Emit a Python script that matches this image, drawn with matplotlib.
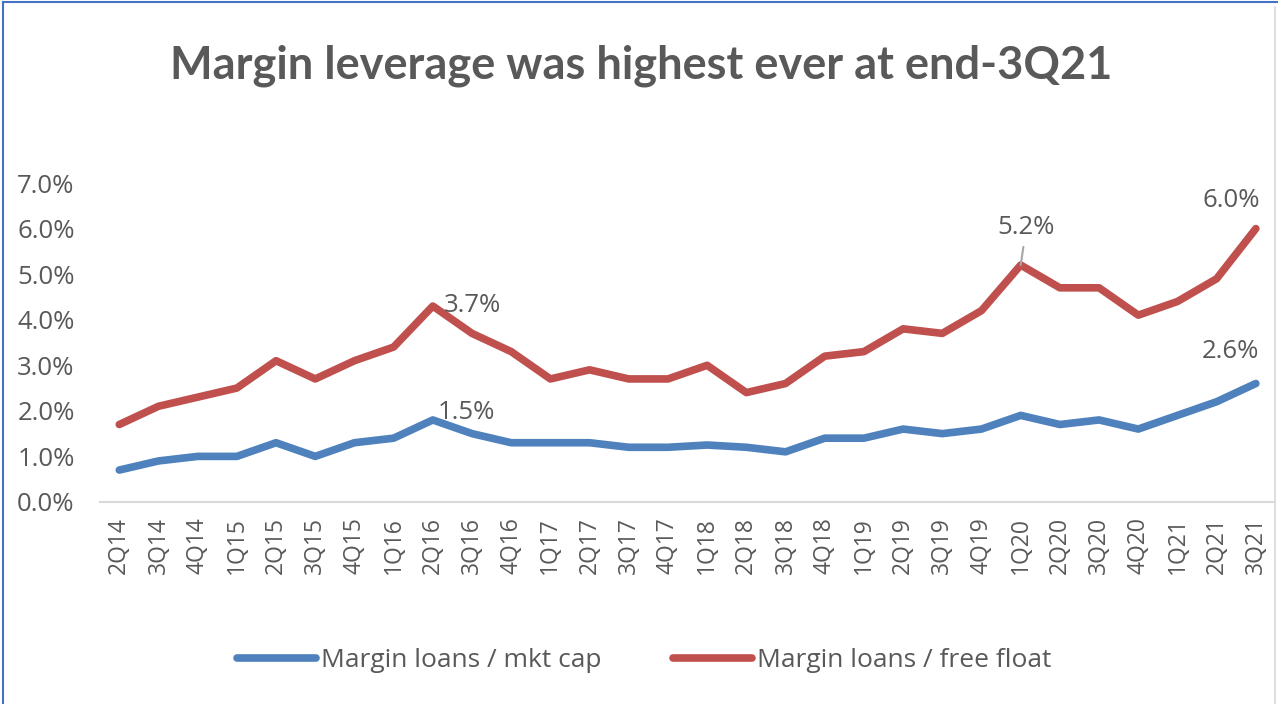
import numpy as np
import matplotlib
matplotlib.use("Agg")
from matplotlib import pyplot as plt
from matplotlib.lines import Line2D

quarters = ['2Q14', '3Q14', '4Q14',
            '1Q15', '2Q15', '3Q15', '4Q15',
            '1Q16', '2Q16', '3Q16', '4Q16',
            '1Q17', '2Q17', '3Q17', '4Q17',
            '1Q18', '2Q18', '3Q18', '4Q18',
            '1Q19', '2Q19', '3Q19', '4Q19',
            '1Q20', '2Q20', '3Q20', '4Q20',
            '1Q21', '2Q21', '3Q21']

mkt_cap = [0.7, 0.9, 1.0,
           1.0, 1.3, 1.0, 1.3,
           1.4, 1.8, 1.5, 1.3,
           1.3, 1.3, 1.2, 1.2,
           1.25, 1.2, 1.1, 1.4,
           1.4, 1.6, 1.5, 1.6,
           1.9, 1.7, 1.8, 1.6,
           1.9, 2.2, 2.6]

free_float = [1.7, 2.1, 2.3,
              2.5, 3.1, 2.7, 3.1,
              3.4, 4.3, 3.7, 3.3,
              2.7, 2.9, 2.7, 2.7,
              3.0, 2.4, 2.6, 3.2,
              3.3, 3.8, 3.7, 4.2,
              5.2, 4.7, 4.7, 4.1,
              4.4, 4.9, 6.0]

blue = '#4F81BD'
red = '#C0504D'
grey = '#595959'
font = 'Open Sans'

fig = plt.figure(figsize=(12.78, 7.04), dpi=100)
ax = fig.add_axes([0.078, 0.287, 0.92, 0.453])

x = np.arange(len(quarters))
ax.plot(x, mkt_cap, color=blue, lw=5.5, solid_capstyle='round', solid_joinstyle='round')
ax.plot(x, free_float, color=red, lw=5.5, solid_capstyle='round', solid_joinstyle='round')

ax.set_xlim(-0.5, len(quarters) - 0.5)
ax.set_ylim(0, 7)
ax.set_yticks(np.arange(0, 8, 1))
ax.set_yticklabels(['%.1f%%' % v for v in np.arange(0, 8, 1)],
                   fontsize=18.5, color=grey, family=font)
ax.set_xticks(x)
ax.set_xticklabels(quarters, rotation=90, fontsize=16.5, color=grey, family=font)
ax.tick_params(axis='both', length=0)
ax.tick_params(axis='y', pad=18)
ax.tick_params(axis='x', pad=11)

for s in ['top', 'right', 'left']:
    ax.spines[s].set_visible(False)
ax.spines['bottom'].set_color('#D9D9D9')
ax.spines['bottom'].set_linewidth(1.5)

# data labels
lab = dict(fontsize=18.5, color=grey, family=font, va='center',
           textcoords='offset points')
ax.annotate('%.1f%%' % free_float[9], xy=(9, free_float[9]),
            xytext=(-20, 20), **lab)
ax.annotate('%.1f%%' % mkt_cap[9], xy=(9, mkt_cap[9]),
            xytext=(-25, 15), **lab)
ax.annotate('%.1f%%' % free_float[23], xy=(23, free_float[23]),
            xytext=(4, 27), ha='center',
            arrowprops=dict(arrowstyle='-', color='#A6A6A6', lw=1.5,
                            shrinkA=3, shrinkB=0), **lab)
ax.annotate('%.1f%%' % free_float[29], xy=(29, free_float[29]),
            xytext=(-18, 20), ha='center', **lab)
ax.annotate('%.1f%%' % mkt_cap[29], xy=(29, mkt_cap[29]),
            xytext=(-18, 23), ha='center', **lab)

fig.text(0.502, 0.907, 'Margin leverage was highest ever at end-3Q21',
         ha='center', va='center', fontsize=32.5, fontweight='bold',
         color=grey, family='Lato')

handles = [Line2D([], [], color=blue, lw=5.5, solid_capstyle='round'),
           Line2D([], [], color=red, lw=5.5, solid_capstyle='round')]
fig.legend(handles, ['Margin loans / mkt cap', 'Margin loans / free float'],
           loc='center', bbox_to_anchor=(0.504, 0.062), ncol=2, frameon=False,
           handlelength=3.0, handletextpad=0.2, columnspacing=2.7,
           prop={'family': font, 'size': 19}, labelcolor=grey)

# chart border
fig.add_artist(Line2D([0.002, 0.002], [0, 0.997], transform=fig.transFigure,
                      color='#4472C4', lw=1.5))
fig.add_artist(Line2D([0.002, 1], [0.997, 0.997], transform=fig.transFigure,
                      color='#4472C4', lw=1.5))
fig.add_artist(Line2D([0.998, 0.998], [0, 0.99], transform=fig.transFigure,
                      color='#D9D9D9', lw=1.2))

fig.savefig('out.png', dpi=100)
